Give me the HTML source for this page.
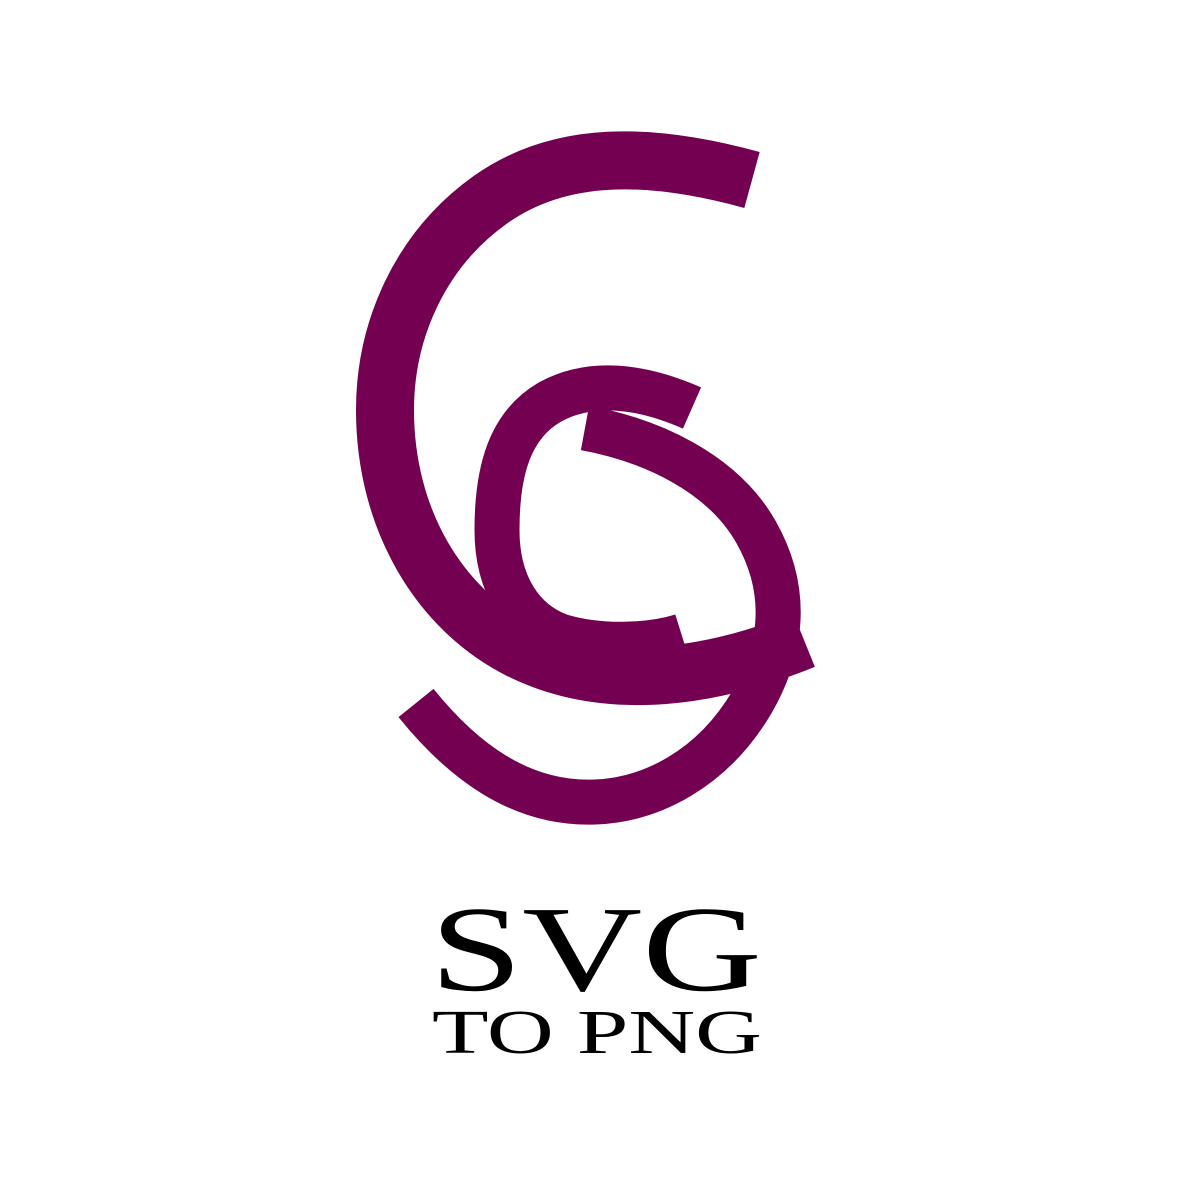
<!DOCTYPE html>
<html>
<head>
<meta charset="utf-8">
<style>
  html,body{margin:0;padding:0;background:#fff;}
  svg{display:block;}
</style>
</head>
<body>
<svg width="1200" height="1200" viewBox="0 0 1200 1200">
  <rect x="0" y="0" width="1200" height="1200" fill="#ffffff"/>
  <g fill="none" stroke="#730050" stroke-linecap="butt">
    <path stroke-width="58"
      d="M 752,180 C 650,152 560,150 490,200 C 420,250 385,330 385,410 C 385,520 440,610 520,650 C 600,690 700,682 804,640"/>
    <path stroke-width="45"
      d="M 692,408 C 640,385 590,380 550,402 C 510,425 497,470 497,530 C 497,585 522,622 560,636 C 600,648 650,646 682,636"/>
    <path stroke-width="45"
      d="M 585,428 C 650,440 722,472 756,532 C 790,592 782,650 752,702 C 712,770 650,800 595,802 C 520,805 462,760 416,703"/>
  </g>
  <text x="430" y="990" textLength="332" lengthAdjust="spacingAndGlyphs" font-family="'Liberation Serif', serif" font-size="122" fill="#000">SVG</text>
  <text x="432" y="1053" textLength="330" lengthAdjust="spacingAndGlyphs" font-family="'Liberation Serif', serif" font-size="62" fill="#000">TO PNG</text>
</svg>
</body>
</html>
